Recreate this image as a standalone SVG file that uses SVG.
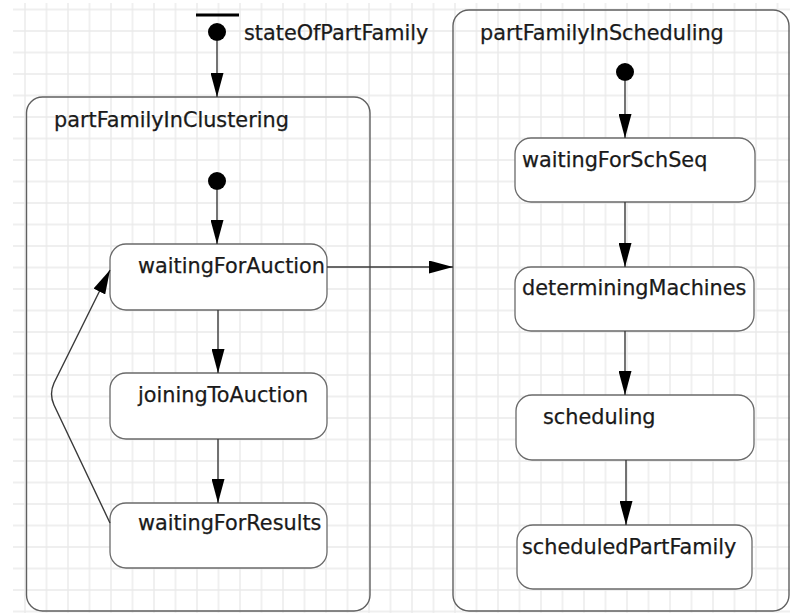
<svg xmlns="http://www.w3.org/2000/svg" width="790" height="613" viewBox="0 0 790 613">
  <style>
    .composite { fill: none; stroke: #606060; stroke-width: 1.4; }
    .state { fill: #ffffff; stroke: #6a6a6a; stroke-width: 1.3; }
    .initial { fill: #000000; }
    .label { font-family: "DejaVu Sans", "Liberation Sans", sans-serif; font-size: 20.8px; fill: #1a1a1a; stroke: #1a1a1a; stroke-width: 0.25; }
    .edge { fill: none; stroke: #3a3a3a; stroke-width: 1.4; }
  </style>
  <defs>
    <pattern id="grid" patternUnits="userSpaceOnUse" x="14.25" y="-1.25" width="21.5" height="21.5">
      <path d="M10.75 0 V21.5 M0 10.75 H21.5" stroke="#eaeaea" stroke-width="1.4" fill="none"/>
    </pattern>
    <marker id="arrow" viewBox="0 0 24 13" refX="24" refY="6.5" markerWidth="24" markerHeight="13" markerUnits="userSpaceOnUse" orient="auto">
      <path d="M0 0 L24 6.5 L0 13 Z" fill="#000000"/>
    </marker>
  </defs>

  <rect x="0" y="0" width="790" height="613" fill="#ffffff"/>
  <rect x="13" y="3" width="777" height="610" fill="url(#grid)"/>

  <!-- top-level initial pseudo-state -->
  <g id="stateOfPartFamily">
    <rect x="196" y="13.5" width="43" height="3" fill="#000000"/>
    <circle class="initial" cx="217" cy="32" r="9"/>
    <text class="label" x="244" y="40">stateOfPartFamily</text>
  </g>

  <!-- clustering composite state -->
  <g id="partFamilyInClustering">
    <rect class="composite" x="26.5" y="97" width="343.5" height="514" rx="16" ry="16"/>
    <text class="label" x="54" y="127">partFamilyInClustering</text>
  </g>
  <g id="clusteringInitial">
    <circle class="initial" cx="217" cy="181" r="9"/>
  </g>
  <g id="waitingForAuction">
    <rect class="state" x="110" y="244" width="217" height="66" rx="16" ry="16"/>
    <text class="label" x="138" y="273">waitingForAuction</text>
  </g>
  <g id="joiningToAuction">
    <rect class="state" x="110" y="373" width="217" height="66" rx="16" ry="16"/>
    <text class="label" x="138" y="402">joiningToAuction</text>
  </g>
  <g id="waitingForResults">
    <rect class="state" x="110" y="503" width="217" height="65" rx="16" ry="16"/>
    <text class="label" x="138" y="530">waitingForResults</text>
  </g>

  <!-- scheduling composite state -->
  <g id="partFamilyInScheduling">
    <rect class="composite" x="453" y="10" width="336" height="601" rx="16" ry="16"/>
    <text class="label" x="480" y="40">partFamilyInScheduling</text>
  </g>
  <g id="schedulingInitial">
    <circle class="initial" cx="625" cy="72" r="9"/>
  </g>
  <g id="waitingForSchSeq">
    <rect class="state" x="515" y="138" width="240" height="64" rx="16" ry="16"/>
    <text class="label" x="522" y="167">waitingForSchSeq</text>
  </g>
  <g id="determiningMachines">
    <rect class="state" x="515" y="267" width="239" height="64" rx="16" ry="16"/>
    <text class="label" x="522" y="295">determiningMachines</text>
  </g>
  <g id="scheduling">
    <rect class="state" x="516" y="395" width="238" height="65" rx="16" ry="16"/>
    <text class="label" x="543" y="424">scheduling</text>
  </g>
  <g id="scheduledPartFamily">
    <rect class="state" x="517" y="525" width="235" height="64" rx="16" ry="16"/>
    <text class="label" x="522" y="554">scheduledPartFamily</text>
  </g>

  <!-- transitions -->
  <g id="connectors">
    <path class="edge" d="M217 41 V97" marker-end="url(#arrow)"/>
    <path class="edge" d="M217 190 V244" marker-end="url(#arrow)"/>
    <path class="edge" d="M218 310 V373" marker-end="url(#arrow)"/>
    <path class="edge" d="M218 439 V503" marker-end="url(#arrow)"/>
    <path class="edge" d="M327 267 H453" marker-end="url(#arrow)"/>
    <path class="edge" d="M110 523 L54 405 Q49 394 54 383 L110 270" marker-end="url(#arrow)"/>
    <path class="edge" d="M625 81 V138" marker-end="url(#arrow)"/>
    <path class="edge" d="M625 202 V267" marker-end="url(#arrow)"/>
    <path class="edge" d="M625 331 V395" marker-end="url(#arrow)"/>
    <path class="edge" d="M626 460 V525" marker-end="url(#arrow)"/>
  </g>
</svg>
